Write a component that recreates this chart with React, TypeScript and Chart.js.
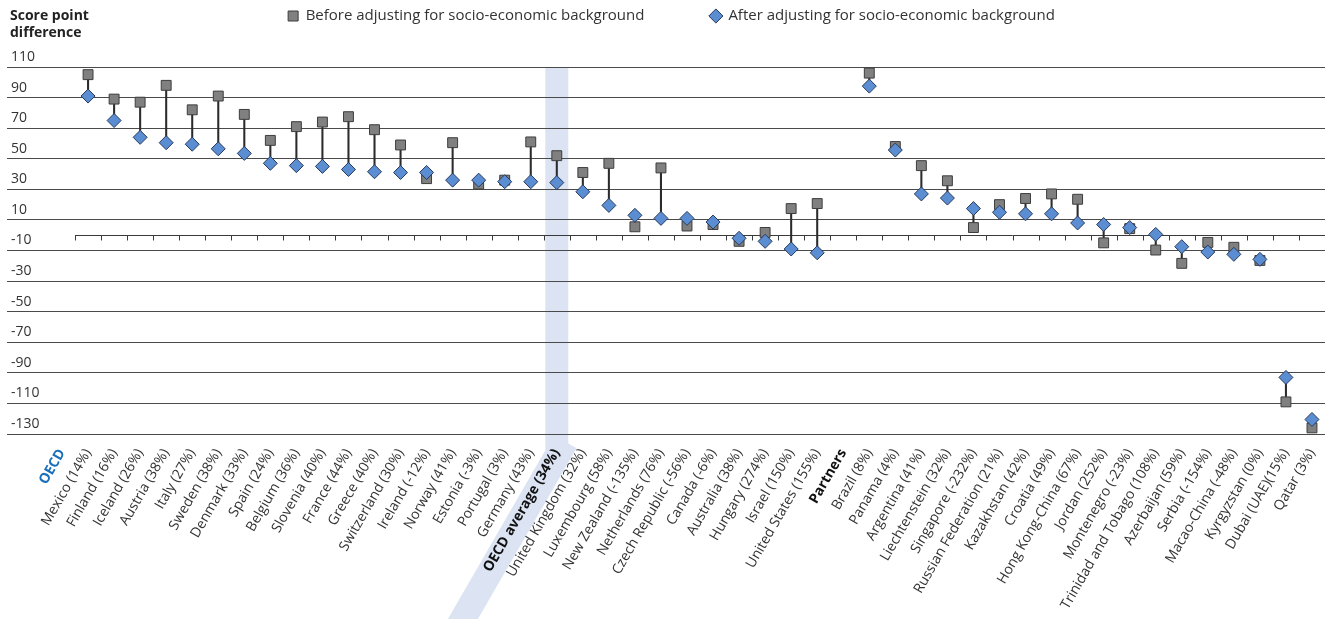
import React, { useEffect, useRef } from "react";
import { Chart, registerables } from "chart.js";

Chart.register(...registerables);

const FONT = "'Open Sans', 'DejaVu Sans', sans-serif";

const categories: string[] = [
  "OECD",
  "Mexico (14%)", "Finland (16%)", "Iceland (26%)", "Austria (38%)", "Italy (27%)",
  "Sweden (38%)", "Denmark (33%)", "Spain (24%)", "Belgium (36%)", "Slovenia (40%)",
  "France (44%)", "Greece (40%)", "Switzerland (30%)", "Ireland (-12%)", "Norway (41%)",
  "Estonia (-3%)", "Portugal (3%)", "Germany (43%)", "OECD average (34%)",
  "United Kingdom (32%)", "Luxembourg (58%)", "New Zealand (-135%)", "Netherlands (76%)",
  "Czech Republic (-56%)", "Canada (-6%)", "Australia (38%)", "Hungary (274%)",
  "Israel (150%)", "United States (155%)",
  "Partners",
  "Brazil (8%)", "Panama (4%)", "Argentina (41%)", "Liechtenstein (32%)", "Singapore (-232%)",
  "Russian Federation (21%)", "Kazakhstan (42%)", "Croatia (49%)", "Hong Kong-China (67%)",
  "Jordan (252%)", "Montenegro (-23%)", "Trinidad and Tobago (108%)", "Azerbaijan (59%)",
  "Serbia (-154%)", "Macao-China (-48%)", "Kyrgyzstan (0%)", "Dubai (UAE)(15%)", "Qatar (3%)",
];

const beforeAdjusting: (number | null)[] = [
  null,
  105, 89, 87, 98, 82,
  91, 79, 62, 71, 74,
  77.5, 69, 59, 37, 60.5,
  33.5, 36, 61, 52,
  41, 47, 5.5, 44,
  6, 7, -4, 1.8,
  17.4, 20.7,
  null,
  106, 58, 45.5, 35.6, 5,
  20, 24, 27, 23.5,
  -5, 4.3, -9.7, -18.4,
  -4.7, -7.9, -16.5, -109, -126,
];

const afterAdjusting: (number | null)[] = [
  null,
  91, 75, 64, 60.5, 59.5,
  56.5, 53.5, 47, 45.5, 45,
  43, 41.5, 41, 41, 36,
  36, 35, 35, 34.4,
  28.4, 19.5, 13, 11,
  11, 8.6, -2, -4,
  -9, -11.5,
  null,
  97.5, 55.7, 27, 24.3, 17.4,
  15, 14, 14, 8,
  7, 5, 0.5, -7.5,
  -11, -12.5, -15.8, -93, -120.5,
];

const seriesLabels = [
  "Before adjusting for socio-economic background",
  "After adjusting for socio-economic background",
];

const yMin = -130;
const yMax = 110;
const yStep = 20;

const highlightLabel = "OECD average (34%)";
const groupLabels = ["OECD", "Partners"];

export default function App() {
  const ref = useRef<HTMLCanvasElement>(null);

  useEffect(() => {
    const canvas = ref.current;
    if (!canvas) return;
    const connectors = beforeAdjusting.map((b, i) => {
      const a = afterAdjusting[i];
      return b == null || a == null ? null : [a, b];
    });
    const highlightIndex = categories.indexOf(highlightLabel);
    const LABEL_PAD = 12;

    const decor = {
      id: "decor",
      beforeDraw(chart: any) {
        const { ctx, chartArea, scales } = chart;
        const x = scales.x;
        const cx = x.getPixelForValue(highlightIndex);
        const half = 11.5;
        ctx.save();
        ctx.fillStyle = "#dce3f2";
        ctx.fillRect(cx - half, chartArea.top, 2 * half, chartArea.bottom - chartArea.top + 16);
        ctx.translate(cx + 6, chartArea.bottom + LABEL_PAD);
        ctx.rotate(-Math.PI / 3);
        ctx.fillRect(-420, -13, 425, 26);
        ctx.restore();
      },
      beforeDatasetsDraw(chart: any) {
        const { ctx, chartArea, scales } = chart;
        const x = scales.x;
        const y = scales.y;
        const y0 = Math.round(y.getPixelForValue(0)) + 0.5;
        const xStart = (x.getPixelForValue(0) + x.getPixelForValue(1)) / 2;
        ctx.save();
        ctx.strokeStyle = "#3a3a3a";
        ctx.lineWidth = 1;
        ctx.beginPath();
        ctx.moveTo(xStart, y0);
        ctx.lineTo(chartArea.right, y0);
        for (let i = 0; i < categories.length - 1; i++) {
          const bx = Math.round((x.getPixelForValue(i) + x.getPixelForValue(i + 1)) / 2) + 0.5;
          ctx.moveTo(bx, y0);
          ctx.lineTo(bx, y0 + 5);
        }
        ctx.stroke();
        ctx.restore();
      },
    };

    Chart.defaults.font.family = FONT;

    const chart = new Chart(canvas, {
      type: "line",
      data: {
        labels: categories,
        datasets: [
          {
            type: "bar",
            label: "connector",
            data: connectors as any,
            backgroundColor: "#2b2b2b",
            barThickness: 1.4,
            order: 3,
          } as any,
          {
            type: "line",
            label: seriesLabels[0],
            data: beforeAdjusting,
            showLine: false,
            pointStyle: "rect",
            pointRadius: 7,
            pointHoverRadius: 7,
            backgroundColor: "#808080",
            borderColor: "#3d3d3d",
            borderWidth: 1,
            pointBorderWidth: 1,
            order: 2,
          },
          {
            type: "line",
            label: seriesLabels[1],
            data: afterAdjusting,
            showLine: false,
            pointStyle: "rectRot",
            pointRadius: 7,
            pointHoverRadius: 7,
            backgroundColor: "#5b8dd3",
            borderColor: "#27395a",
            borderWidth: 1,
            pointBorderWidth: 1,
            order: 1,
          },
        ],
      },
      options: {
        responsive: false,
        animation: false,
        devicePixelRatio: 1,
        events: [],
        layout: { padding: { top: 0.5, left: 11, right: 1, bottom: 0 } },
        plugins: {
          tooltip: { enabled: false },
          legend: {
            display: true,
            position: "top",
            labels: {
              usePointStyle: true,
              boxWidth: 10,
              boxHeight: 10,
              padding: 8,
              color: "#333",
              font: { family: FONT, size: 15 },
              filter: (item: any) => item.datasetIndex !== 0,
              sort: (a: any, b: any) => a.datasetIndex - b.datasetIndex,
              generateLabels: (c: any) => {
                const items = (Chart.defaults.plugins.legend.labels as any).generateLabels(c);
                items.forEach((it: any) => {
                  if (it.datasetIndex === 1) it.text = it.text + " ".repeat(15);
                });
                return items;
              },
            },
          },
          subtitle: {
            display: true,
            text: "",
            position: "top",
            weight: 500,
            font: { size: 10, lineHeight: 1.2 },
            padding: { top: 21.5, bottom: 0 },
          } as any,
        },
        scales: {
          x: {
            type: "category",
            offset: true,
            grid: { display: false, drawTicks: false },
            border: { display: false },
            ticks: {
              autoSkip: false,
              minRotation: 60,
              maxRotation: 60,
              padding: LABEL_PAD,
              color: (ctx: any) => (ctx.index === 0 ? "#1a6fba" : groupLabels.includes(categories[ctx.index]) || ctx.index === highlightIndex ? "#111" : "#333"),
              font: (ctx: any) => ({
                family: FONT,
                size: 14,
                weight: groupLabels.includes(categories[ctx.index]) || ctx.index === highlightIndex ? "bold" : "normal",
              }),
            },
            afterFit: (scale: any) => {
              scale.height = 185;
              scale.paddingLeft = 0;
              scale.paddingRight = 0;
            },
          },
          y: {
            min: yMin,
            max: yMax,
            border: { display: false },
            grid: { color: "#4a4a4a", lineWidth: 1, drawTicks: true, tickLength: 42, tickColor: "#4a4a4a" },
            ticks: {
              stepSize: yStep,
              crossAlign: "far",
              labelOffset: -10,
              padding: 0,
              color: "#333",
              font: { family: FONT, size: 14 },
              callback: (v: any) => String(v),
            },
            afterFit: (scale: any) => {
              scale.width = 38;
            },
          },
        },
      } as any,
      plugins: [decor],
    });

    return () => chart.destroy();
  }, []);

  return (
    <div style={{ position: "absolute", left: 0, top: 0, width: 1333, height: 619, background: "#fff" }}>
      <canvas ref={ref} width={1333} height={619} style={{ display: "block" }} />
      <div
        style={{
          position: "absolute",
          left: 10,
          top: 6,
          font: `bold 14px ${FONT}`,
          lineHeight: "17px",
          color: "#222",
        }}
      >
        Score point
        <br />
        difference
      </div>
    </div>
  );
}
